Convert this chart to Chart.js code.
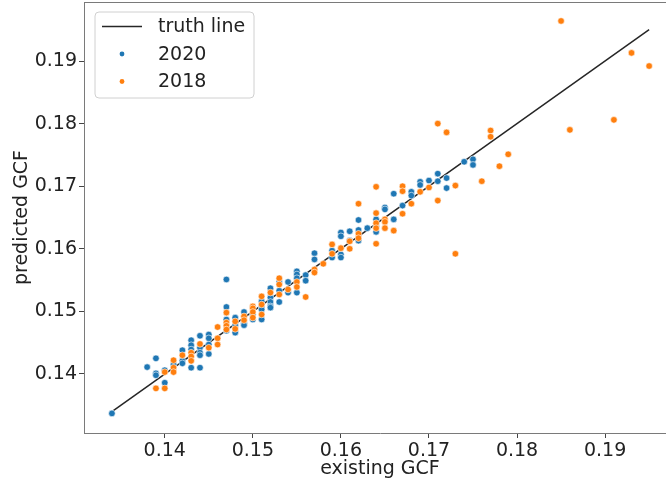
<!DOCTYPE html>
<html>
<head>
<meta charset="utf-8">
<script src="https://cdn.jsdelivr.net/npm/chart.js@4.4.1/dist/chart.umd.min.js"></script>
<style>
  html, body { margin: 0; padding: 0; background: #fff; overflow: hidden; width: 666px; height: 481px; }
  #wrap { width: 666px; height: 481px; overflow: hidden; position: relative; }
  #chart { position: absolute; left: 0; top: 0; }
</style>
</head>
<body>
<div id="wrap"><canvas id="chart" width="676" height="481"></canvas></div>
<script>
// --- data ---
const truthX = [0.134, 0.195];

const x2020 = [0.134, 0.138, 0.139, 0.139, 0.139, 0.140, 0.140, 0.141, 0.142, 0.142, 0.142,
  0.143, 0.143, 0.143, 0.143, 0.144, 0.144, 0.144, 0.144, 0.144, 0.145, 0.145, 0.145, 0.145,
  0.147, 0.147, 0.147, 0.147, 0.148, 0.148, 0.148, 0.149, 0.149, 0.149, 0.150, 0.150,
  0.151, 0.151, 0.151, 0.151, 0.152, 0.152, 0.152, 0.152, 0.152, 0.153, 0.153, 0.153,
  0.154, 0.154, 0.155, 0.155, 0.155, 0.155, 0.156, 0.156, 0.157, 0.157, 0.159, 0.159,
  0.160, 0.160, 0.160, 0.160, 0.161, 0.161, 0.162, 0.162, 0.162, 0.163, 0.164, 0.164, 0.164,
  0.165, 0.165, 0.166, 0.166, 0.167, 0.168, 0.168, 0.169, 0.169, 0.170, 0.171, 0.171,
  0.172, 0.172, 0.174, 0.175, 0.175];
const y2020 = [0.1337, 0.1411, 0.1425, 0.1401, 0.1398, 0.1406, 0.1386, 0.1415, 0.1438, 0.1421, 0.1417,
  0.1454, 0.1446, 0.1439, 0.1410, 0.1461, 0.1442, 0.1434, 0.1430, 0.1410, 0.1463, 0.1457, 0.1447, 0.1432,
  0.1551, 0.1507, 0.1487, 0.1469, 0.1490, 0.1478, 0.1466, 0.1499, 0.1481, 0.1478, 0.1495, 0.1487,
  0.1516, 0.1507, 0.1503, 0.1487, 0.1537, 0.1522, 0.1515, 0.1508, 0.1506, 0.1547, 0.1533, 0.1515,
  0.1547, 0.1530, 0.1564, 0.1559, 0.1553, 0.1530, 0.1558, 0.1549, 0.1593, 0.1583, 0.1597, 0.1586,
  0.1626, 0.1620, 0.1591, 0.1586, 0.1628, 0.1613, 0.1646, 0.1630, 0.1613, 0.1633, 0.1647, 0.1636, 0.1627,
  0.1666, 0.1663, 0.1688, 0.1647, 0.1669, 0.1691, 0.1685, 0.1707, 0.1702, 0.1709, 0.1720, 0.1708,
  0.1713, 0.1697, 0.1739, 0.1743, 0.1734];

const x2018 = [0.139, 0.140, 0.140, 0.141, 0.141, 0.141, 0.142, 0.143, 0.143, 0.143, 0.144, 0.145,
  0.146, 0.146, 0.146, 0.147, 0.147, 0.147, 0.147, 0.148, 0.148, 0.149, 0.149,
  0.150, 0.150, 0.150, 0.150, 0.151, 0.151, 0.151, 0.152, 0.153, 0.153, 0.153, 0.154,
  0.155, 0.155, 0.156, 0.157, 0.157, 0.158, 0.159, 0.159, 0.160, 0.161, 0.161,
  0.162, 0.162, 0.162, 0.164, 0.164, 0.164, 0.164, 0.164, 0.165, 0.165, 0.165, 0.166,
  0.167, 0.167, 0.167, 0.168, 0.169, 0.170, 0.171, 0.171, 0.172, 0.173, 0.173,
  0.176, 0.177, 0.177, 0.178, 0.179, 0.185, 0.186, 0.191, 0.193, 0.195];
const y2018 = [0.1377, 0.1403, 0.1377, 0.1422, 0.1410, 0.1403, 0.1430, 0.1434, 0.1428, 0.1421, 0.1448, 0.1442,
  0.1475, 0.1457, 0.1447, 0.1498, 0.1482, 0.1477, 0.1471, 0.1484, 0.1472, 0.1492, 0.1486,
  0.1508, 0.1505, 0.1499, 0.1490, 0.1524, 0.1511, 0.1495, 0.1530, 0.1553, 0.1543, 0.1527, 0.1535,
  0.1547, 0.1539, 0.1523, 0.1567, 0.1562, 0.1576, 0.1607, 0.1592, 0.1601, 0.1612, 0.1600,
  0.1672, 0.1624, 0.1617, 0.1699, 0.1657, 0.1641, 0.1633, 0.1608, 0.1647, 0.1643, 0.1633, 0.1629,
  0.1700, 0.1692, 0.1656, 0.1672, 0.1691, 0.1698, 0.1800, 0.1677, 0.1786, 0.1701, 0.1592,
  0.1708, 0.1789, 0.1779, 0.1732, 0.1751, 0.1964, 0.1790, 0.1806, 0.1913, 0.1892];

const tickValues = [0.14, 0.15, 0.16, 0.17, 0.18, 0.19];
const legendLabels = ['truth line', '2020', '2018'];

const BLUE = '#1f77b4';
const ORANGE = '#ff7f0e';
const LINE = '#262626';
const SPINE = '#7a7a7a';
const TEXT = '#222';
const FONT = "'DejaVu Sans', sans-serif";

const pts = (xs, ys) => xs.map((x, i) => ({ x: x, y: ys[i] }));

// legend box inside the axes, upper left, like matplotlib
const innerLegend = {
  id: 'innerLegend',
  afterDraw(chart) {
    const { ctx, chartArea } = chart;
    const x0 = chartArea.left + 11, y0 = chartArea.top + 10;
    const w = 159, h = 86;
    ctx.save();
    ctx.beginPath();
    ctx.roundRect(x0, y0, w, h, 4);
    ctx.fillStyle = 'rgba(255,255,255,0.8)';
    ctx.fill();
    ctx.strokeStyle = '#d0d0d0';
    ctx.lineWidth = 1;
    ctx.stroke();

    const rows = [y0 + 14.5, y0 + 42, y0 + 69.5];
    ctx.strokeStyle = LINE;
    ctx.lineWidth = 1.5;
    ctx.beginPath();
    ctx.moveTo(x0 + 7, rows[0]);
    ctx.lineTo(x0 + 47, rows[0]);
    ctx.stroke();
    [BLUE, ORANGE].forEach((c, i) => {
      ctx.beginPath();
      ctx.arc(x0 + 27, rows[i + 1], 2.4, 0, Math.PI * 2);
      ctx.fillStyle = c;
      ctx.fill();
    });
    ctx.fillStyle = TEXT;
    ctx.font = '19px ' + FONT;
    ctx.textBaseline = 'middle';
    legendLabels.forEach((t, i) => ctx.fillText(t, x0 + 63, rows[i] + 1));
    ctx.restore();
  }
};

// top spine only (the right spine lies outside the visible window)
const topSpine = {
  id: 'topSpine',
  afterDatasetsDraw(chart) {
    const { ctx, chartArea } = chart;
    ctx.save();
    ctx.strokeStyle = SPINE;
    ctx.lineWidth = 1;
    ctx.beginPath();
    ctx.moveTo(chartArea.left, chartArea.top + 0.5);
    ctx.lineTo(chartArea.right, chartArea.top + 0.5);
    ctx.stroke();
    ctx.restore();
  }
};

const axisOpts = (min, max, title, size, titlePad) => ({
  type: 'linear',
  min: min,
  max: max,
  afterBuildTicks: s => { s.ticks = tickValues.map(v => ({ value: v })); },
  afterFit: s => {
    if (s.isHorizontal()) s.height = size; else s.width = size;
    s.paddingTop = 0; s.paddingBottom = 0; s.paddingLeft = 0; s.paddingRight = 0;
  },
  grid: { drawOnChartArea: false, drawTicks: true, tickLength: 5, tickColor: '#444', tickWidth: 1 },
  border: { display: true, color: SPINE, width: 1 },
  ticks: { color: TEXT, font: { family: FONT, size: 19 }, padding: 2,
           callback: v => v.toFixed(2), maxRotation: 0, autoSkip: false },
  title: { display: true, text: title, color: TEXT, font: { family: FONT, size: 19 }, padding: titlePad }
});

new Chart(document.getElementById('chart'), {
  type: 'scatter',
  data: {
    datasets: [
      {
        label: legendLabels[0],
        data: pts(truthX, truthX),
        showLine: true,
        borderColor: LINE,
        borderWidth: 1.5,
        pointRadius: 0,
        order: 3
      },
      {
        label: legendLabels[1],
        data: pts(x2020, y2020),
        backgroundColor: BLUE,
        borderColor: '#ffffff',
        borderWidth: 0.6,
        pointRadius: 3.3,
        order: 2
      },
      {
        label: legendLabels[2],
        data: pts(x2018, y2018),
        backgroundColor: ORANGE,
        borderColor: '#ffffff',
        borderWidth: 0.6,
        pointRadius: 3.3,
        order: 1
      }
    ]
  },
  options: {
    responsive: false,
    animation: false,
    layout: { autoPadding: false, padding: { top: 2, right: 0, left: 0, bottom: 0 } },
    plugins: { legend: { display: false }, tooltip: { enabled: false } },
    scales: {
      x: axisOpts(0.13083, 0.19805, 'existing GCF', 48, 1),
      y: axisOpts(0.13057, 0.19943, 'predicted GCF', 84, 11)
    }
  },
  plugins: [topSpine, innerLegend]
});
</script>
</body>
</html>
